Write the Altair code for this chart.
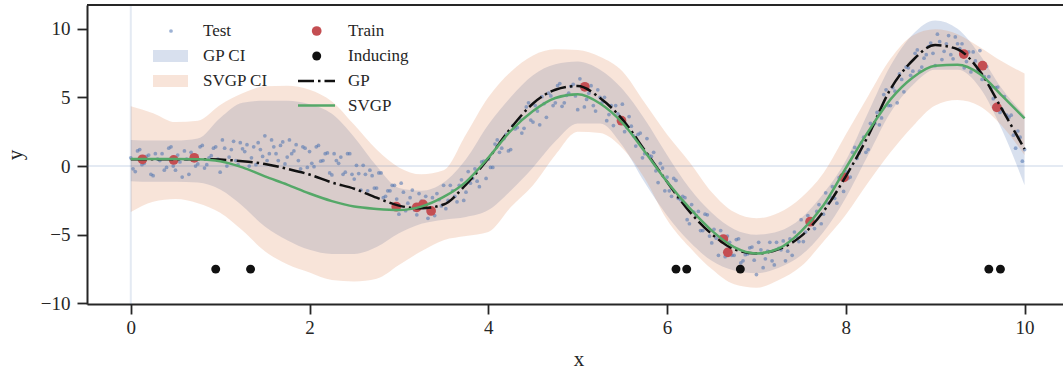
import altair as alt
import pandas as pd

# ---------------- data ----------------
grid_x = [i * 0.25 for i in range(41)]

gp_mean = [0.49, 0.5, 0.5, 0.5, 0.47, 0.35, 0.15, -0.2, -0.62, -1.2, -1.65, -2.3, -2.88, -3.08, -2.8, -1.35,
           0.55, 2.75, 4.55, 5.55, 5.82, 4.95, 3.4, 1.15, -1.15, -3.3, -4.95, -6.05, -6.36, -6.05, -5.1, -3.3,
           -0.75, 2.2, 5.6, 7.7, 8.8, 8.5, 6.9, 4.1, 1.24]
gp_hi = [1.9, 1.85, 1.85, 2.0, 3.5, 4.6, 4.75, 4.75, 4.5, 3.8, 2.1, 0.0, -1.6, -1.8, -1.2, 0.5,
         3.0, 5.0, 6.6, 7.4, 7.6, 7.0, 5.6, 3.4, 0.8, -1.6, -3.4, -4.6, -5.0, -4.75, -3.8, -2.0,
         0.4, 3.9, 7.3, 9.6, 10.6, 10.0, 8.1, 5.6, 3.7]
gp_lo = [-1.1, -1.15, -1.15, -1.2, -1.7, -2.9, -4.4, -5.4, -6.1, -6.4, -6.4, -5.9, -4.9, -4.2, -3.9, -3.7,
         -3.2, -1.8, -0.1, 1.8, 3.1, 3.1, 1.5, -1.2, -3.6, -5.5, -6.9, -7.6, -7.8, -7.4, -6.5, -4.8,
         -2.3, 0.8, 3.9, 5.9, 7.0, 7.0, 5.7, 2.6, -1.4]

sv_mean = [0.51, 0.52, 0.52, 0.5, 0.35, -0.1, -0.75, -1.35, -2.0, -2.55, -2.95, -3.12, -3.2, -2.95, -2.25, -1.15,
           0.6, 2.55, 4.0, 4.95, 5.22, 4.55, 3.15, 1.05, -1.15, -3.05, -4.7, -5.9, -6.36, -6.0, -4.75, -2.85,
           -0.15, 2.5, 4.85, 6.45, 7.3, 7.37, 6.7, 5.1, 3.47]
sv_hi = [4.35, 3.85, 3.2, 3.3, 4.45, 5.3, 5.8, 5.85, 5.55, 4.7, 3.0, 1.2, -0.1, -0.6, -0.3, 2.3,
         5.0, 6.85, 8.05, 8.5, 8.45, 7.95, 6.9, 4.6, 2.3, 0.3, -1.9, -3.35, -3.8, -3.4, -2.3, -0.5,
         2.3, 5.1, 7.8, 9.5, 9.95, 9.6, 8.65, 7.6, 6.74]
sv_lo = [-3.35, -2.6, -2.4, -2.7, -3.4, -4.7, -6.2, -7.15, -7.75, -8.3, -8.4, -8.2, -7.2, -6.2, -5.4, -5.1,
         -4.8, -3.0, -1.4, 0.8, 2.5, 2.4, 1.3, -0.9, -3.9, -5.9, -7.5, -8.6, -8.85, -8.3, -7.3, -5.5,
         -3.55, -1.2, 1.0, 2.9, 4.4, 4.8, 4.35, 2.9, 0.8]

train_x = [0.13, 0.48, 0.71, 2.97, 3.2, 3.27, 3.36, 5.08, 5.49, 6.63, 6.68, 7.6, 7.98, 9.32, 9.53, 9.69]
train_y = [0.49, 0.44, 0.6, -2.96, -3.0, -2.79, -3.27, 5.77, 3.3, -5.31, -6.28, -4.05, -0.82, 8.15, 7.3, 4.27]

inducing_x = [0.95, 1.34, 6.1, 6.22, 6.82, 9.6, 9.73]
inducing_y = [-7.5, -7.5, -7.5, -7.5, -7.5, -7.5, -7.5]

test_x_a = [round(i * 0.05, 3) for i in range(201)]
test_y_a = [0.6, -0.4, 1.2, 0.2, 0.8, -0.7, 0.5, 0.9, -0.1, 1.4, -0.3, 0.3, 1.1, -0.6, 0.75, 0.15, 1.5, 0.1, 0.75, 1.4,
            -0.45, 1.3, 0.65, 1.8, 0.1, 1.25, 1.55, 0.6, 0.1, 1.2, 2.2, 0.9, 1.4, 0.4, 1.75, 0.65, 0.9, 1.55, -0.2, 1.3,
            1.05, -0.05, 1.5, 0.4, 0.95, -0.65, 0.4, 0.65, -0.45, 0.9, -0.95, -0.55, 0.05, -1.8, -0.7, -1.6, -0.5, -2.2, -1.8, -1.4,
            -3.5, -1.9, -2.7, -1.75, -3.55, -2.55, -2.2, -3.15, -3.6, -2.45, -1.4, -2.5, -1.8, -2.6, -1.0, -1.9, -1.25, -0.2, -1.5, 0.35,
            0.5, -0.1, 1.9, 1.3, 2.3, 1.2, 2.7, 3.45, 2.75, 4.6, 3.2, 4.0, 5.05, 3.55, 5.1, 4.6, 6.0, 4.6, 5.3, 5.95,
            4.1, 5.7, 4.85, 5.85, 4.0, 5.0, 5.0, 3.75, 2.95, 3.8, 4.5, 2.8, 2.9, 1.45, 2.4, 0.9, 0.75, 1.0, -1.2, -0.15,
            -0.8, -2.2, -1.05, -2.45, -2.3, -4.2, -3.35, -3.3, -4.7, -3.55, -5.6, -5.25, -4.7, -6.6, -5.55, -6.5, -5.3, -6.9, -6.4, -5.9,
            -7.9, -6.1, -6.75, -5.55, -7.2, -6.0, -5.45, -6.2, -6.5, -5.15, -3.9, -4.8, -3.95, -4.55, -2.8, -3.5, -2.7, -1.5, -2.7, -0.7,
            -0.4, -0.8, 1.35, 0.95, 2.1, 1.2, 2.95, 3.9, 3.5, 5.55, 4.4, 5.45, 6.7, 5.4, 7.15, 6.9, 8.45, 7.2, 8.1, 8.95,
            7.3, 9.05, 8.35, 9.5, 7.8, 8.9, 8.9, 7.6, 6.85, 7.65, 8.4, 6.5, 6.5, 4.9, 5.75, 4.1, 3.7, 3.7, 1.3, 2.1,
            1.2]
test_x_b = [round(0.025 + i * 0.05, 3) for i in range(200)]
test_y_b = [-0.2, 1.1, 0.1, 0.7, -0.6, 0.9, 0.4, -0.3, 1.3, 0.0, 0.8, -0.8, 0.5, 1.0, 0.0, 1.4, -0.15, 0.6, 1.3, 0.5,
            1.9, 0.0, 1.2, 0.4, 1.7, 1.05, 0.0, 1.4, 1.7, 0.7, 0.4, 1.9, 0.9, 1.5, 0.15, 1.9, 1.1, 0.4, 1.4, -0.1,
            0.2, 1.4, 0.35, 0.9, -0.5, 0.9, 0.2, -0.6, 0.9, -0.6, 0.05, -1.75, -0.6, -0.3, -1.6, -0.5, -2.3, -1.8, -1.4, -2.4,
            -1.25, -3.25, -2.3, -3.2, -2.0, -2.7, -3.8, -2.3, -2.0, -2.9, -3.1, -1.4, -2.2, -1.4, -2.5, -0.4, -0.9, -1.1, 0.3, -0.9,
            -0.1, 1.6, 1.0, 2.0, 1.1, 2.95, 2.8, 2.4, 4.3, 3.35, 4.4, 3.0, 4.55, 5.3, 4.4, 5.85, 4.35, 5.15, 5.8, 5.1,
            6.35, 4.3, 5.3, 4.4, 5.55, 4.65, 3.3, 4.4, 4.4, 3.15, 2.5, 3.6, 2.2, 2.3, 0.6, 2.0, 0.7, -0.35, 0.2, -1.8,
            -1.8, -0.9, -2.35, -2.2, -3.9, -2.8, -3.6, -4.7, -3.5, -5.1, -4.6, -6.5, -5.4, -5.1, -6.5, -5.35, -7.05, -6.45, -5.95, -6.85,
            -5.55, -7.4, -6.2, -6.9, -5.55, -6.1, -6.9, -5.3, -4.8, -5.5, -5.5, -3.6, -4.25, -3.3, -4.2, -1.95, -2.25, -2.35, -0.85, -1.85,
            -0.9, 1.0, 0.55, 1.7, 1.0, 3.1, 3.1, 3.0, 5.2, 4.4, 5.7, 4.6, 6.3, 7.2, 6.6, 8.2, 6.9, 7.85, 8.7, 8.2,
            9.6, 7.75, 8.9, 8.1, 9.4, 8.55, 7.15, 8.3, 8.3, 7.0, 6.3, 7.25, 5.7, 5.7, 3.9, 5.05, 3.55, 2.25, 2.55, 0.35]

x_ticks = [0, 2, 4, 6, 8, 10]
y_ticks = [-10, -5, 0, 5, 10]

# ---------------- styling ----------------
W, H = 976, 299
FONT = "Liberation Serif"
INK = "#262626"
BLUE, ORANGE, GREEN, RED = "#4c72b0", "#dd8452", "#55a868", "#c44e52"
BAND_OP = 0.22

xscale = alt.Scale(domain=[-0.49, 10.43], nice=False, zero=False)
yscale = alt.Scale(domain=[-10.04, 11.72], nice=False, zero=False)

common_axis = dict(grid=False, domainColor=INK, domainWidth=2, tickColor=INK, tickWidth=1.8, tickSize=10,
                   labelFont=FONT, labelFontSize=19, labelColor=INK, titleFont=FONT, titleFontSize=21,
                   titleFontWeight="normal", titleColor=INK, labelFlush=False, labelOverlap=False,
                   titleAlign="center", titleBaseline="middle")
xaxis = alt.Axis(values=x_ticks, labelPadding=4, titleX=491.5, titleY=55, **common_axis)
yaxis = alt.Axis(values=y_ticks, labelPadding=7, titleX=-72, titleY=149.5, titleAngle=270, **common_axis)


def X(f):
    return alt.X(f, type="quantitative", scale=xscale, axis=xaxis, title="x")


def Y(f):
    return alt.Y(f, type="quantitative", scale=yscale, axis=yaxis, title="y")


curves = pd.DataFrame(dict(x=grid_x, gp_mean=gp_mean, gp_hi=gp_hi, gp_lo=gp_lo,
                           sv_mean=sv_mean, sv_hi=sv_hi, sv_lo=sv_lo))
test = pd.DataFrame(dict(x=test_x_a + test_x_b, y=test_y_a + test_y_b))
train = pd.DataFrame(dict(x=train_x, y=train_y))
induc = pd.DataFrame(dict(x=inducing_x, y=inducing_y))
zero = pd.DataFrame(dict(v=[0]))
one = pd.DataFrame(dict(a=[0]))

gp_band = alt.Chart(curves).mark_area(color=BLUE, opacity=BAND_OP, interpolate="monotone").encode(
    x=X("x"), y=Y("gp_lo"), y2="gp_hi")
sv_band = alt.Chart(curves).mark_area(color=ORANGE, opacity=BAND_OP, interpolate="monotone").encode(
    x=X("x"), y=Y("sv_lo"), y2="sv_hi")
hline = alt.Chart(zero).mark_rule(color=BLUE, opacity=0.15, strokeWidth=2).encode(y=Y("v"))
vline = alt.Chart(zero).mark_rule(color=BLUE, opacity=0.15, strokeWidth=2).encode(x=X("v"))
test_pts = alt.Chart(test).mark_circle(size=14, color=BLUE, opacity=0.55).encode(x=X("x"), y=Y("y"))
train_pts = alt.Chart(train).mark_circle(size=95, color=RED, opacity=1).encode(x=X("x"), y=Y("y"))
induc_pts = alt.Chart(induc).mark_circle(size=80, color="#111111", opacity=1).encode(x=X("x"), y=Y("y"))
gp_line = alt.Chart(curves).mark_line(color="#111111", strokeWidth=2.5, strokeDash=[16, 4, 2.5, 4],
                                      interpolate="monotone").encode(x=X("x"), y=Y("gp_mean"))
sv_line = alt.Chart(curves).mark_line(color=GREEN, strokeWidth=2.5, interpolate="monotone").encode(
    x=X("x"), y=Y("sv_mean"))

top_frame = alt.Chart(one).mark_rule(color=INK, strokeWidth=2).encode(
    x=alt.value(0), x2=alt.value(W), y=alt.value(0))

# ---------------- legend (two columns) ----------------
rows = [26, 51, 76, 100.5]
leg = []
leg.append(alt.Chart(one).mark_circle(size=14, color=BLUE, opacity=0.55).encode(x=alt.value(84), y=alt.value(rows[0])))
leg.append(alt.Chart(one).mark_rect(color=BLUE, opacity=BAND_OP).encode(
    x=alt.value(66), x2=alt.value(101), y=alt.value(rows[1] - 6), y2=alt.value(rows[1] + 6)))
leg.append(alt.Chart(one).mark_rect(color=ORANGE, opacity=BAND_OP).encode(
    x=alt.value(66), x2=alt.value(101), y=alt.value(rows[2] - 6), y2=alt.value(rows[2] + 6)))
leg.append(alt.Chart(one).mark_circle(size=95, color=RED, opacity=1).encode(x=alt.value(229.7), y=alt.value(rows[0])))
leg.append(alt.Chart(one).mark_circle(size=80, color="#111111", opacity=1).encode(x=alt.value(229.7), y=alt.value(rows[1])))
leg.append(alt.Chart(one).mark_rule(color="#111111", strokeWidth=2.5, strokeDash=[16, 4, 2.5, 4]).encode(
    x=alt.value(211), x2=alt.value(248), y=alt.value(rows[2])))
leg.append(alt.Chart(one).mark_rule(color=GREEN, strokeWidth=2.5).encode(
    x=alt.value(211), x2=alt.value(248), y=alt.value(rows[3])))
labels = [("Test", 116, rows[0]), ("GP CI", 116, rows[1]), ("SVGP CI", 116, rows[2]),
          ("Train", 261, rows[0]), ("Inducing", 261, rows[1]), ("GP", 261, rows[2]), ("SVGP", 261, rows[3])]
for txt, lx, ly in labels:
    leg.append(alt.Chart(one).mark_text(text=txt, font=FONT, fontSize=17, color=INK, align="left",
                                        baseline="middle").encode(x=alt.value(lx), y=alt.value(ly)))

chart = alt.layer(
    gp_band, sv_band, hline, vline, test_pts, train_pts, induc_pts, gp_line, sv_line, top_frame, *leg
).properties(
    width=W, height=H,
    autosize=alt.AutoSizeParams(type="none"),
    padding={"left": 87, "top": 5, "right": 0, "bottom": 70},
).configure_view(stroke=None).configure(background="white")

chart.save("out.html", embed_options={"renderer": "svg", "actions": False})
